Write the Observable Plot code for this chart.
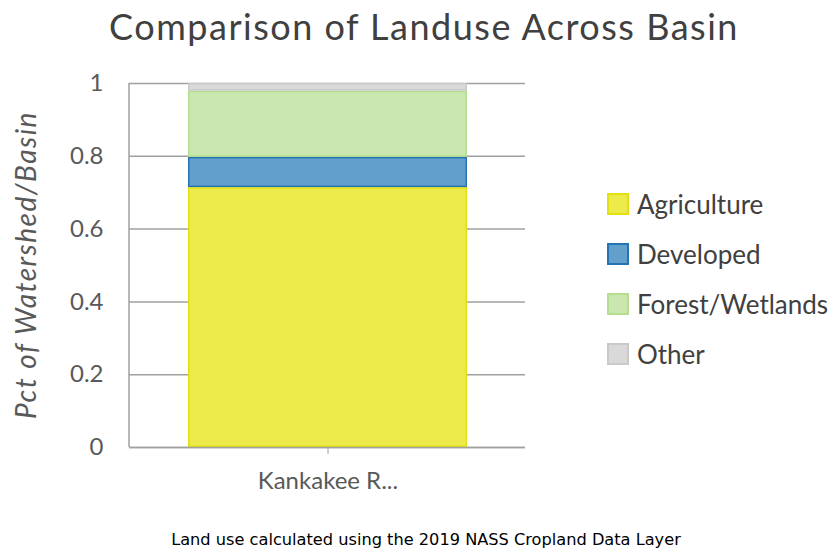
<!DOCTYPE html>
<html>
<head>
<meta charset="utf-8">
<script src="https://cdn.jsdelivr.net/npm/d3@7"></script>
<script src="https://cdn.jsdelivr.net/npm/@observablehq/plot@0.6"></script>
<style>
  html, body { margin: 0; padding: 0; background: #fff; }
  #wrap { position: relative; width: 832px; height: 550px; overflow: hidden; font-family: Lato, "Open Sans", sans-serif; }
  #title { position: absolute; left: 0; width: 832px; top: 4px; text-align: center; font-size: 36px; letter-spacing: 1.5px; color: #404040; padding-left: 16px; box-sizing: border-box; line-height: 44px; }
  #caption { position: absolute; left: 0; width: 832px; top: 530px; line-height: 20px; text-align: center; font-family: "DejaVu Sans", sans-serif; font-size: 16.2px; color: #000; padding-left: 20px; box-sizing: border-box; }
  #ytitle { position: absolute; left: 25px; top: 265px; transform: translate(-50%, -50%) rotate(-90deg); font-style: italic; font-size: 28px; letter-spacing: 1.5px; color: #595959; white-space: nowrap; line-height: 32px; }
  #legend { position: absolute; left: 607px; top: 179px; }
  .item { display: flex; align-items: center; height: 50px; font-size: 26px; color: #404040; }
  .sw { width: 18px; height: 18px; border: 2px solid; margin-right: 8px; }
  #chart { position: absolute; left: 0; top: 0; }
</style>
</head>
<body>
<div id="wrap">
  <div id="chart"></div>
  <div id="title"></div>
  <div id="ytitle"></div>
  <div id="legend"></div>
  <div id="caption"></div>
</div>
<script>
const titleText = "Comparison of Landuse Across Basin";
const yTitle = "Pct of Watershed/Basin";
const caption = "Land use calculated using the 2019 NASS Cropland Data Layer";
const basins = ["Kankakee R..."];
const categories = ["Agriculture", "Developed", "Forest/Wetlands", "Other"];
const values = [0.714, 0.083, 0.182, 0.021];
const fills = ["#edeb4c", "#62a0cb", "#c9e7ae", "#d9d9d9"];
const strokes = ["#e4e010", "#2474b4", "#b4de8e", "#c9c9c9"];
const yTicks = [0, 0.2, 0.4, 0.6, 0.8, 1];

document.getElementById("title").textContent = titleText;
document.getElementById("ytitle").textContent = yTitle;
document.getElementById("caption").textContent = caption;

const rows = categories.map((c, i) => ({basin: basins[0], category: c, value: values[i]}));

// vertical line along the left edge of the plot frame
const leftAxisLine = (index, scales, values, dims) => {
  const g = document.createElementNS("http://www.w3.org/2000/svg", "line");
  const x = dims.marginLeft;
  g.setAttribute("x1", x); g.setAttribute("x2", x);
  g.setAttribute("y1", dims.marginTop); g.setAttribute("y2", dims.height - dims.marginBottom);
  g.setAttribute("stroke", "#a0a0a0"); g.setAttribute("stroke-width", 1.5);
  return g;
};

const plot = Plot.plot({
  width: 832,
  height: 550,
  marginLeft: 129,
  marginRight: 307,
  marginTop: 83,
  marginBottom: 103,
  style: {fontFamily: "Lato, 'Open Sans', sans-serif", fontSize: "24px", color: "#595959", background: "transparent"},
  x: {domain: basins, padding: 0.173, label: null},
  y: {domain: [0, 1], label: null},
  color: {domain: categories, range: fills},
  marks: [
    Plot.gridY(yTicks, {stroke: "#a0a0a0", strokeOpacity: 1, strokeWidth: 1.5}),
    Plot.barY(rows, Plot.stackY({x: "basin", y: "value", fill: "category", order: categories,
      stroke: d => strokes[categories.indexOf(d.category)], strokeWidth: 1.5, inset: 0.75})),
    Plot.axisY({ticks: yTicks, tickFormat: d => String(d), tickSize: 0, tickPadding: 26, fontSize: 24, fill: "#595959", label: null}),
    Plot.axisX({tickSize: 7, tickPadding: 17, fontSize: 24, fill: "#595959", stroke: "#a0a0a0", label: null}),
    leftAxisLine,
    Plot.ruleY([0], {stroke: "#a0a0a0", strokeWidth: 1.5})
  ]
});
document.getElementById("chart").appendChild(plot);

const leg = document.getElementById("legend");
categories.forEach((c, i) => {
  const it = document.createElement("div");
  it.className = "item";
  const sw = document.createElement("div");
  sw.className = "sw";
  sw.style.background = fills[i];
  sw.style.borderColor = strokes[i];
  const t = document.createElement("span");
  t.textContent = c;
  it.appendChild(sw); it.appendChild(t);
  leg.appendChild(it);
});
</script>
</body>
</html>
